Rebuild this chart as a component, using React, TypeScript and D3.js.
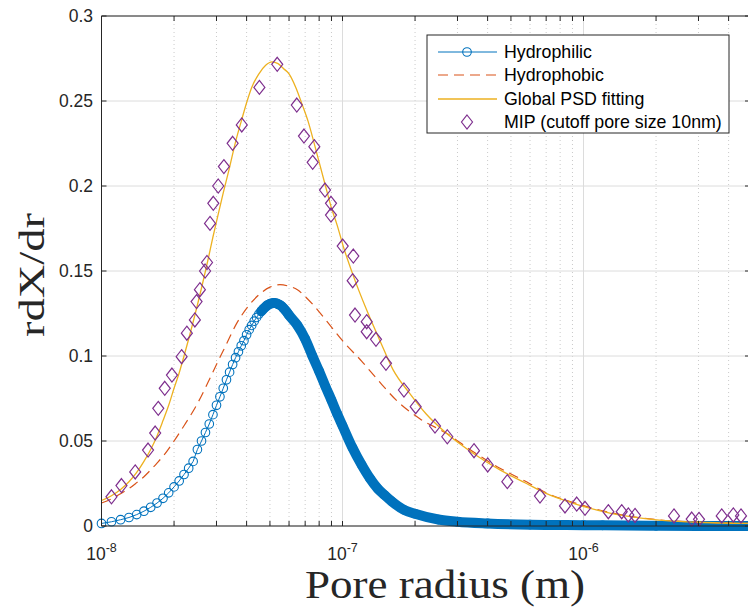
import React from "react";
import * as d3 from "d3";

// ---------- data (r in nm, values rdX/dr) ----------
const hydrophilicR = [10, 11, 12, 13, 14, 15, 16, 17, 18, 19, 20, 21, 22, 23, 24, 25, 26, 27, 28, 29, 30, 31, 32, 33, 34, 35, 36, 37, 38, 39, 40, 41, 42, 43, 44, 45, 46, 47, 48, 49, 50, 51, 52, 53, 54, 55, 56, 57, 58, 59, 60, 65, 70, 75, 80, 85, 90, 95, 100, 110, 120, 130, 140, 150, 160, 180, 200, 250, 300, 400, 600, 1000, 1200, 2000, 3000, 4900];
const hydrophilicV = [0.0015, 0.0025, 0.0037, 0.005, 0.0067, 0.0087, 0.011, 0.0135, 0.0163, 0.0195, 0.023, 0.0265, 0.0303, 0.034, 0.038, 0.045, 0.05, 0.055, 0.06, 0.0655, 0.071, 0.076, 0.081, 0.086, 0.0905, 0.095, 0.099, 0.1025, 0.106, 0.109, 0.1125, 0.1155, 0.118, 0.1205, 0.1227, 0.1247, 0.1263, 0.1278, 0.129, 0.13, 0.1307, 0.131, 0.1312, 0.131, 0.1305, 0.13, 0.1292, 0.128, 0.1268, 0.1255, 0.124, 0.118, 0.11, 0.1, 0.091, 0.082, 0.074, 0.066, 0.059, 0.046, 0.036, 0.028, 0.022, 0.018, 0.0145, 0.0095, 0.0072, 0.0038, 0.0025, 0.0015, 0.0008, 0.0005, 0.0004, 0.0001, 0, 0];

const hydrophobicR = [10, 11, 12, 13, 14, 15, 16, 17, 18, 20, 22, 25, 28, 30, 33, 36, 40, 45, 50, 55, 60, 65, 70, 80, 90, 100, 120, 140, 170, 210, 270, 350, 450, 580, 700, 900, 1300, 2000, 3000, 4900];
const hydrophobicV = [0.0135, 0.016, 0.019, 0.022, 0.0255, 0.029, 0.033, 0.037, 0.041, 0.05, 0.059, 0.072, 0.086, 0.095, 0.107, 0.118, 0.128, 0.136, 0.1405, 0.142, 0.141, 0.139, 0.135, 0.126, 0.117, 0.109, 0.097, 0.086, 0.073, 0.063, 0.0545, 0.0435, 0.034, 0.026, 0.0195, 0.014, 0.0078, 0.0038, 0.0023, 0.0015];

const fitR = [10, 11, 12, 13, 14, 15, 16, 17, 18, 19, 20, 21, 22, 23, 24, 25, 26, 27, 28, 29, 30, 32, 34, 36, 38, 40, 42, 45, 48, 51, 54, 57, 60, 64, 68, 72, 76, 80, 85, 90, 95, 101, 111, 126, 143, 162, 190, 222, 270, 348, 450, 580, 703, 900, 1286, 2063, 3000, 4900];
const fitV = [0.015, 0.0178, 0.0215, 0.026, 0.0315, 0.038, 0.045, 0.053, 0.062, 0.071, 0.081, 0.09, 0.1, 0.11, 0.12, 0.13, 0.14, 0.15, 0.16, 0.17, 0.179, 0.196, 0.211, 0.226, 0.238, 0.249, 0.258, 0.266, 0.271, 0.273, 0.272, 0.269, 0.266, 0.258, 0.248, 0.238, 0.226, 0.214, 0.2, 0.187, 0.177, 0.164, 0.147, 0.127, 0.109, 0.092, 0.078, 0.066, 0.0545, 0.0428, 0.033, 0.025, 0.019, 0.0135, 0.0076, 0.0035, 0.0022, 0.0015];

const mipR = [11.0, 12.1, 13.8, 15.6, 16.7, 17.2, 18.3, 19.6, 21.5, 22.6, 24.4, 24.8, 25.6, 26.9, 27.4, 28.2, 29.1, 30.5, 32.2, 35.0, 38.2, 45.2, 53.6, 64.6, 69.2, 76.4, 75.2, 84.6, 89.6, 89.6, 100.2, 110.9, 110.2, 112.7, 126, 126, 137.7, 151.5, 179.9, 201.2, 242, 272.2, 351.3, 400.4, 482.9, 659.8, 837.9, 937.2, 1014.5, 1267.8, 1440.6, 1534.5, 1636.1, 2374, 2812, 3015, 3745, 4184, 4503];
const mipV = [0.0172, 0.0238, 0.0318, 0.0447, 0.0547, 0.0692, 0.081, 0.0888, 0.0996, 0.1134, 0.1212, 0.132, 0.139, 0.15, 0.155, 0.178, 0.1898, 0.2, 0.2114, 0.2251, 0.2359, 0.258, 0.2716, 0.2476, 0.2294, 0.2231, 0.2139, 0.1976, 0.1898, 0.1829, 0.1647, 0.1588, 0.1443, 0.1241, 0.1202, 0.1143, 0.1098, 0.0957, 0.08, 0.0702, 0.0588, 0.0525, 0.0443, 0.0359, 0.0261, 0.0176, 0.0118, 0.0129, 0.0104, 0.0084, 0.0084, 0.0065, 0.0062, 0.0059, 0.0041, 0.0039, 0.0059, 0.0065, 0.0059];

const yTicks = [0, 0.05, 0.1, 0.15, 0.2, 0.25, 0.3];
const yTickLabels = ["0", "0.05", "0.1", "0.15", "0.2", "0.25", "0.3"];
const xDecades = [1e-8, 1e-7, 1e-6];
const xDecadeExp = ["-8", "-7", "-6"];
const legendLabels = ["Hydrophilic", "Hydrophobic", "Global PSD fitting", "MIP (cutoff pore size 10nm)"];

const BLUE = "#0072BD";
const ORANGE = "#D95319";
const YELLOW = "#EDB120";
const PURPLE = "#7E2F8E";
const AXIS = "#262626";
const GRID = "#DCDCDC";
const MINOR = "#BDBDBD";

export default function App() {
  const left = 101.5, right = 750, top = 16, bottom = 526;
  const x = d3.scaleLog().domain([1e-8, 1e-8 * Math.pow(10, (right - left) / 241)]).range([left, right]);
  const y = d3.scaleLinear().domain([0, 0.3]).range([bottom, top]);

  const toPts = (R: number[], V: number[]) => R.map((r, i) => [r * 1e-9, V[i]] as [number, number]);
  const line = d3.line<[number, number]>().x(d => x(d[0])).y(d => y(d[1]));
  const smooth = d3.line<[number, number]>().x(d => x(d[0])).y(d => y(d[1])).curve(d3.curveMonotoneX);

  const blue = toPts(hydrophilicR, hydrophilicV);
  const bandPts = blue.filter(d => d[0] >= 46e-9);
  const orange = toPts(hydrophobicR, hydrophobicV);
  const fit = toPts(fitR, fitV);
  const mip = toPts(mipR, mipV);

  const minor: number[] = [];
  for (let e = -8; e <= -6; e++) for (let k = 2; k <= 9; k++) {
    const v = k * Math.pow(10, e);
    if (x(v) <= right) minor.push(v);
  }

  const diamond = (cx: number, cy: number) => `M${cx},${cy - 7}L${cx + 5.5},${cy}L${cx},${cy + 7}L${cx - 5.5},${cy}Z`;

  const legY = [52, 75, 99, 122];
  const sans = "'Liberation Sans', Arial, Helvetica, sans-serif";
  const serif = "'Liberation Serif', 'Times New Roman', serif";

  return (
    <svg width={748} height={613} style={{ position: "absolute", left: 0, top: 0, background: "#fff" }}>
      <rect x={0} y={0} width={748} height={613} fill="#fff" />
      <defs>
        <clipPath id="plotclip"><rect x={left} y={top} width={right - left} height={bottom - top} /></clipPath>
      </defs>
      {/* grid */}
      {minor.map((v, i) => (
        <line key={"mg" + i} x1={x(v)} x2={x(v)} y1={top} y2={bottom} stroke={MINOR} strokeWidth={0.8} strokeDasharray="1,3" />
      ))}
      {xDecades.map((v, i) => (
        <line key={"Mg" + i} x1={x(v)} x2={x(v)} y1={top} y2={bottom} stroke={GRID} strokeWidth={1} />
      ))}
      {yTicks.map((v, i) => (
        <line key={"yg" + i} x1={left} x2={right} y1={y(v)} y2={y(v)} stroke={GRID} strokeWidth={1} />
      ))}

      {/* hydrophilic: line, dense markers (band) and markers */}
      <g clipPath="url(#plotclip)">
        <path d={line(blue) || ""} fill="none" stroke={BLUE} strokeWidth={1} />
      </g>
      <path d={smooth(bandPts) || ""} fill="none" stroke={BLUE} strokeWidth={10} strokeLinejoin="round" strokeLinecap="round" />
      {blue.map((d, i) => (
        <circle key={"bc" + i} cx={x(d[0])} cy={y(d[1])} r={4.3} fill="none" stroke={BLUE} strokeWidth={1.1} />
      ))}
      {/* hydrophobic + fit */}
      <g clipPath="url(#plotclip)">
        <path d={smooth(orange) || ""} fill="none" stroke={ORANGE} strokeWidth={1.2} strokeDasharray="10,6" />
        <path d={smooth(fit) || ""} fill="none" stroke={YELLOW} strokeWidth={1.3} />
      </g>
      {mip.map((d, i) => (
        <path key={"md" + i} d={diamond(x(d[0]), y(d[1]))} fill="none" stroke={PURPLE} strokeWidth={1.2} />
      ))}

      {/* axes box */}
      <line x1={left} x2={left} y1={top} y2={bottom} stroke={AXIS} strokeWidth={1} />
      <line x1={left} x2={right} y1={top} y2={top} stroke={AXIS} strokeWidth={1} />
      <line x1={left} x2={right} y1={bottom} y2={bottom} stroke={AXIS} strokeWidth={1} />
      <line x1={right} x2={right} y1={top} y2={bottom} stroke={AXIS} strokeWidth={1} />
      {yTicks.map((v, i) => (
        <g key={"yt" + i}>
          <line x1={left} x2={left + 5} y1={y(v)} y2={y(v)} stroke={AXIS} />
          <line x1={right - 5} x2={right} y1={y(v)} y2={y(v)} stroke={AXIS} />
          <text x={93} y={y(v)} dy="0.36em" textAnchor="end" fontFamily={sans} fontSize={17.5} fill={AXIS}>{yTickLabels[i]}</text>
        </g>
      ))}
      {[...xDecades, ...minor].map((v, i) => (
        <g key={"xt" + i}>
          <line x1={x(v)} x2={x(v)} y1={bottom} y2={bottom - 5} stroke={AXIS} />
          <line x1={x(v)} x2={x(v)} y1={top} y2={top + 5} stroke={AXIS} />
        </g>
      ))}
      {xDecades.map((v, i) => (
        <text key={"xl" + i} x={x(v)} y={560} textAnchor="middle" fontFamily={sans} fontSize={17.5} fill={AXIS}>
          <tspan>10</tspan>
          <tspan dy={-8} fontSize={12.5}>{xDecadeExp[i]}</tspan>
        </text>
      ))}

      {/* axis labels */}
      <text x={305} y={598} textLength={280} lengthAdjust="spacingAndGlyphs" fontFamily={serif} fontSize={39} fill={AXIS}>Pore radius (m)</text>
      <text transform="translate(44,337) rotate(-90)" textLength={124} lengthAdjust="spacingAndGlyphs" fontFamily={serif} fontSize={36} fill={AXIS}>rdX/dr</text>

      {/* legend */}
      <rect x={427} y={35} width={302} height={98} fill="#fff" stroke={AXIS} strokeWidth={1} />
      <line x1={438} x2={497} y1={legY[0]} y2={legY[0]} stroke={BLUE} strokeWidth={1} />
      <circle cx={467} cy={legY[0]} r={4.3} fill="none" stroke={BLUE} strokeWidth={1.1} />
      <line x1={438} x2={497} y1={legY[1]} y2={legY[1]} stroke={ORANGE} strokeWidth={1.2} strokeDasharray="10,6" />
      <line x1={438} x2={497} y1={legY[2]} y2={legY[2]} stroke={YELLOW} strokeWidth={1.3} />
      <path d={diamond(467, legY[3])} fill="none" stroke={PURPLE} strokeWidth={1.2} />
      {legendLabels.map((t, i) => (
        <text key={"lg" + i} x={504} y={legY[i]} dy="0.36em" fontFamily={sans} fontSize={17.8} fill="#000">{t}</text>
      ))}
    </svg>
  );
}
